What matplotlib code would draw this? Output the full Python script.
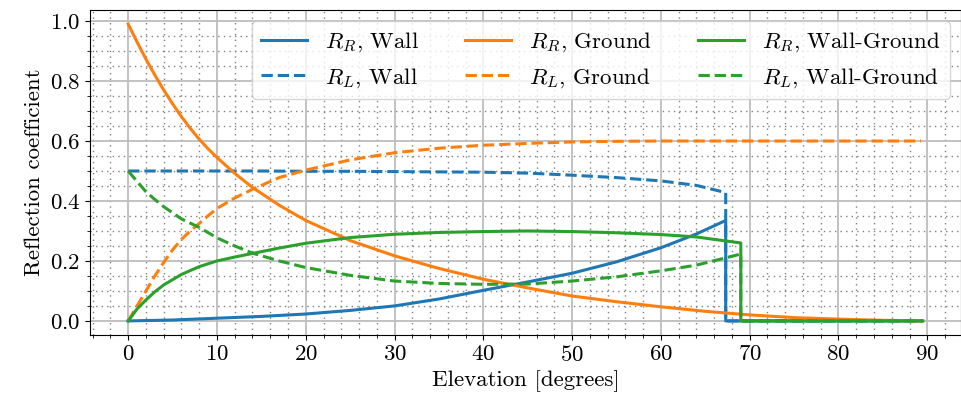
import matplotlib
matplotlib.use("Agg")
import matplotlib.pyplot as plt
from matplotlib.ticker import MultipleLocator

plt.rcParams['font.family'] = 'serif'
plt.rcParams['font.serif'] = ['cmr10']
plt.rcParams['mathtext.fontset'] = 'cm'
plt.rcParams['axes.formatter.use_mathtext'] = True
plt.rcParams['font.size'] = 16.5

# wall: R_R / R_L (cut off at ~67.3 deg)
wall_ang = [0, 5, 10, 15, 20, 25, 30, 35, 40, 45, 50, 55, 60, 64, 67.3, 67.3, 89.4]
wall_rr = [0, 0.003, 0.009, 0.015, 0.023, 0.035, 0.05, 0.073, 0.102, 0.13, 0.159,
           0.197, 0.244, 0.29, 0.335, 0, 0]
wall_rl = [0.5, 0.5, 0.5, 0.5, 0.499, 0.499, 0.498, 0.497, 0.496, 0.493, 0.486,
           0.478, 0.467, 0.452, 0.428, 0, 0]

# ground
gnd_ang = [0, 1, 2, 3, 4, 5, 6, 7, 8, 9, 10, 12, 14, 17, 20, 25, 30, 35, 40, 45,
           50, 55, 60, 65, 70, 75, 80, 85, 89.3]
gnd_rr = [0.99, 0.93, 0.873, 0.82, 0.77, 0.724, 0.681, 0.642, 0.606, 0.574, 0.545,
          0.492, 0.445, 0.386, 0.335, 0.268, 0.217, 0.175, 0.139, 0.11, 0.083,
          0.064, 0.047, 0.032, 0.02, 0.011, 0.006, 0.002, 0.0]
gnd_rl = [0, 0.05, 0.1, 0.15, 0.195, 0.237, 0.272, 0.3, 0.325, 0.351, 0.375, 0.41,
          0.439, 0.478, 0.503, 0.537, 0.561, 0.576, 0.586, 0.592, 0.597, 0.599,
          0.6, 0.6, 0.6, 0.6, 0.6, 0.6, 0.6]

# wall-ground (cut off at ~69 deg)
wg_ang = [0, 1, 2, 3, 4, 6, 8, 10, 12, 14, 17, 20, 25, 30, 35, 40, 45, 50, 55,
          60, 64, 69, 69, 89.5]
wg_rr = [0, 0.04, 0.07, 0.097, 0.12, 0.155, 0.181, 0.2, 0.213, 0.225, 0.243,
         0.259, 0.278, 0.289, 0.295, 0.298, 0.3, 0.298, 0.294, 0.288, 0.28, 0.26,
         0, 0]
wg_rl = [0.5, 0.465, 0.431, 0.405, 0.381, 0.34, 0.312, 0.277, 0.25, 0.226, 0.2,
         0.178, 0.152, 0.133, 0.125, 0.122, 0.123, 0.133, 0.147, 0.167, 0.186,
         0.223, 0, 0]

fig = plt.figure(figsize=(9.62, 4.03), dpi=100)
ax = fig.add_axes([90/962, 68/403, 871/962, 325/403])

ax.plot(wall_ang, wall_rr, color='tab:blue', lw=2.2, label=r'$R_R$, Wall')
ax.plot(wall_ang, wall_rl, color='tab:blue', lw=2.2, ls='--', label=r'$R_L$, Wall')
ax.plot(gnd_ang, gnd_rr, color='tab:orange', lw=2.2, label=r'$R_R$, Ground')
ax.plot(gnd_ang, gnd_rl, color='tab:orange', lw=2.2, ls='--', label=r'$R_L$, Ground')
ax.plot(wg_ang, wg_rr, color='tab:green', lw=2.2, label=r'$R_R$, Wall-Ground')
ax.plot(wg_ang, wg_rl, color='tab:green', lw=2.2, ls='--', label=r'$R_L$, Wall-Ground')

ax.set_xlim(-4.3, 93.8)
ax.set_ylim(-0.047, 1.037)
ax.xaxis.set_major_locator(MultipleLocator(10))
ax.xaxis.set_minor_locator(MultipleLocator(2))
ax.yaxis.set_major_locator(MultipleLocator(0.2))
ax.yaxis.set_minor_locator(MultipleLocator(0.05))
ax.grid(which='major', color='#bdbdbd', lw=1.3)
ax.grid(which='minor', color='#808080', lw=1.0, ls=(0, (1, 3)))
ax.set_axisbelow(True)

ax.set_xlabel('Elevation [degrees]')
ax.set_ylabel('Reflection coefficient')
ax.legend(ncol=3, loc='upper right')

fig.savefig('out.png', dpi=100)
